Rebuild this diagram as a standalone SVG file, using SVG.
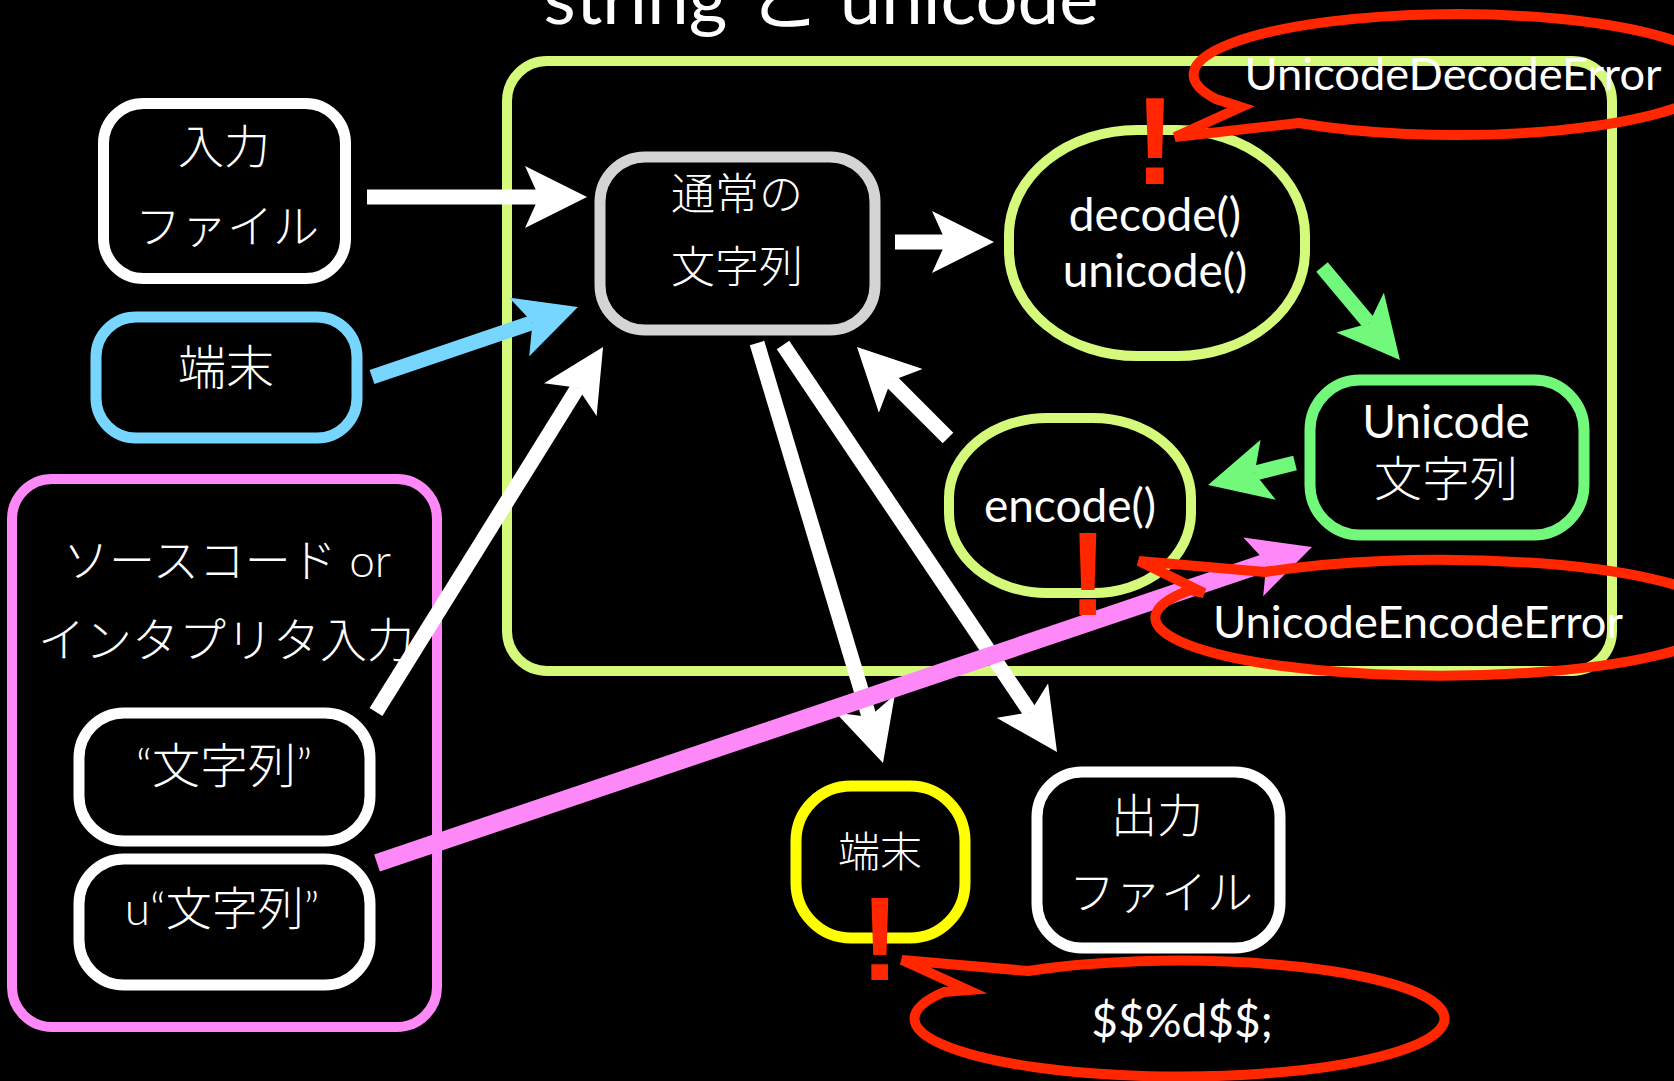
<svg xmlns="http://www.w3.org/2000/svg" width="1674" height="1081" viewBox="0 0 1674 1081">
<defs>
<style>
.bg{fill:#000}
.box{fill:#000;stroke-width:11}
.lat{font-family:Lato,"Noto Sans CJK JP",sans-serif;fill:#fff}
.jp{font-family:Lato,"Noto Sans CJK JP",sans-serif;fill:#fff;font-weight:300}
.red{fill:none;stroke:#ff2600;stroke-width:10;stroke-linejoin:miter}
.bang{font-family:"Liberation Sans",sans-serif;font-weight:bold;fill:#ff2600;text-anchor:middle}
.c{text-anchor:middle}
.w{stroke:#fff;stroke-width:15;fill:none}
.b{stroke:#76d6ff;stroke-width:15;fill:none}
.g{stroke:#72f87b;stroke-width:15;fill:none}
.p{stroke:#ff88f8;stroke-width:18;fill:none}
</style>
<marker id="mw" markerUnits="userSpaceOnUse" markerWidth="62" markerHeight="62" viewBox="0 0 62 62" refX="14" refY="31" orient="auto"><path d="M0,0 L62,31 L0,62 L14,31 Z" fill="#fff"/></marker>
<marker id="mb" markerUnits="userSpaceOnUse" markerWidth="62" markerHeight="62" viewBox="0 0 62 62" refX="14" refY="31" orient="auto"><path d="M0,0 L62,31 L0,62 L14,31 Z" fill="#76d6ff"/></marker>
<marker id="mg" markerUnits="userSpaceOnUse" markerWidth="62" markerHeight="62" viewBox="0 0 62 62" refX="14" refY="31" orient="auto"><path d="M0,0 L62,31 L0,62 L14,31 Z" fill="#72f87b"/></marker>
<marker id="mp" markerUnits="userSpaceOnUse" markerWidth="62" markerHeight="62" viewBox="0 0 62 62" refX="14" refY="31" orient="auto"><path d="M0,0 L62,31 L0,62 L14,31 Z" fill="#ff88f8"/></marker>
</defs>
<rect class="bg" x="0" y="0" width="1674" height="1081"/>
<text class="lat c" x="821" y="24" font-size="72" textLength="555" lengthAdjust="spacingAndGlyphs">string と unicode</text>

<g id="python-container">
<rect x="507" y="61" width="1105" height="610" rx="40" fill="none" stroke="#d5f97a" stroke-width="10"/>
</g>

<g id="input-file">
<rect class="box" x="103.5" y="103.5" width="242" height="175" rx="40" stroke="#fff"/>
<text class="jp c" x="224" y="163" font-size="46">入力</text>
<text class="jp c" x="227" y="243" font-size="46">ファイル</text>
</g>
<g id="terminal-in">
<rect class="box" x="96" y="317" width="261" height="121" rx="40" stroke="#76d6ff"/>
<text class="jp c" x="226" y="385" font-size="48">端末</text>
</g>
<g id="source">
<rect x="12" y="479" width="425" height="548" rx="40" fill="#000" stroke="#ff88f8" stroke-width="10"/>
<text class="jp c" x="227" y="577" font-size="46">ソースコード or</text>
<text class="jp c" x="226" y="657" font-size="47">インタプリタ入力</text>
</g>
<g id="str-literal">
<rect class="box" x="79" y="713" width="291" height="128" rx="45" stroke="#fff" stroke-width="10"/>
<text class="jp c" x="224" y="783" font-size="48">“文字列”</text>
</g>
<g id="ustr-literal">
<rect class="box" x="79" y="859" width="291" height="126" rx="45" stroke="#fff" stroke-width="10"/>
<text class="jp c" x="222" y="925" font-size="46">u“文字列”</text>
</g>
<g id="normal-string">
<rect class="box" x="600" y="157" width="275" height="173" rx="45" stroke="#d4d4d4" stroke-width="10"/>
<text class="jp c" x="737" y="210" font-size="44">通常の</text>
<text class="jp c" x="737" y="283" font-size="44">文字列</text>
</g>
<g id="decode">
<rect x="1009" y="130" width="296" height="226" rx="128" ry="105" fill="#000" stroke="#d5f97a" stroke-width="10"/>
<text class="lat c" x="1155" y="231" font-size="46">decode()</text>
<text class="lat c" x="1155" y="287" font-size="46">unicode()</text>
</g>
<g id="unicode-string">
<rect class="box" x="1310" y="380" width="274" height="155" rx="50" stroke="#72f87b" stroke-width="10"/>
<text class="lat c" x="1446" y="438" font-size="46">Unicode</text>
<text class="jp c" x="1446" y="496" font-size="48">文字列</text>
</g>
<g id="encode">
<rect x="949" y="418" width="242" height="175" rx="98" ry="80" fill="#000" stroke="#d5f97a" stroke-width="10"/>
<text class="lat c" x="1070" y="522" font-size="46">encode()</text>
</g>
<g id="terminal-out">
<rect class="box" x="796" y="786" width="169" height="152" rx="55" stroke="#ffff00"/>
<text class="jp c" x="880" y="867" font-size="42">端末</text>
</g>
<g id="output-file">
<rect class="box" x="1037" y="772" width="243" height="176" rx="45" stroke="#fff"/>
<text class="jp c" x="1157" y="832" font-size="46">出力</text>
<text class="jp c" x="1161" y="909" font-size="46">ファイル</text>
</g>

<g id="connectors">
<line class="w" x1="367" y1="197" x2="539" y2="197" marker-end="url(#mw)"/>
<line class="b" x1="372" y1="377" x2="532.5" y2="322.5" marker-end="url(#mb)"/>
<line class="w" x1="376" y1="712" x2="577.7" y2="387.8" marker-end="url(#mw)"/>
<line class="w" x1="895" y1="242" x2="946" y2="242" marker-end="url(#mw)"/>
<line class="g" x1="1322" y1="267" x2="1369.1" y2="323.2" marker-end="url(#mg)"/>
<line class="g" x1="1295" y1="463" x2="1254.6" y2="473.2" marker-end="url(#mg)"/>
<line class="w" x1="948" y1="438" x2="890.9" y2="380.9" marker-end="url(#mw)"/>
<line class="w" x1="757" y1="343" x2="869.2" y2="717" marker-end="url(#mw)"/>
<line class="w" x1="783" y1="345" x2="1030.2" y2="712.2" marker-end="url(#mw)"/>
<line class="p" x1="377" y1="863" x2="1266.5" y2="562.4" marker-end="url(#mp)"/>
</g>

<g id="decode-error">
<path class="red" d="M1299,123 L1175,137 L1241,107 L1216,99 A263,60.5 0 1 1 1299,123 Z"/>
<text class="bang" x="1155" y="184" font-size="125">!</text>
<text class="lat c" x="1453" y="90" font-size="44" textLength="417" lengthAdjust="spacingAndGlyphs">UnicodeDecodeError</text>
</g>
<g id="encode-error">
<path class="red" d="M1265,572 L1139,561 L1204,593 L1190,590 A285,58 0 1 0 1265,572 Z"/>
<text class="bang" x="1088" y="615" font-size="118">!</text>
<text class="lat c" x="1418" y="638" font-size="44" textLength="410" lengthAdjust="spacingAndGlyphs">UnicodeEncodeError</text>
</g>
<g id="terminal-error">
<path class="red" d="M1028,971 L902,960 L968,990 L944,992 A265,58 0 1 0 1028,971 Z"/>
<text class="bang" x="880" y="980" font-size="118">!</text>
<text class="lat c" x="1182" y="1037" font-size="46">$$%d$$;</text>
</g>
</svg>
